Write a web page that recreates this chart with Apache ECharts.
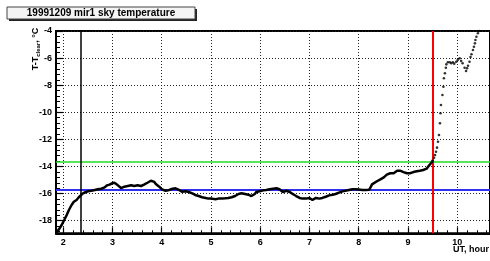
<!DOCTYPE html>
<html>
<head>
<meta charset="utf-8">
<script src="https://cdn.jsdelivr.net/npm/echarts@6.0.0/dist/echarts.min.js"></script>
<style>
html, body { margin: 0; padding: 0; background: #fff; }
#chart { width: 490px; height: 261px; }
</style>
</head>
<body>
<div id="chart"></div>
<script>
// axis ticks
var xTicks = [2, 3, 4, 5, 6, 7, 8, 9, 10];
var yTicks = [-18, -16, -14, -12, -10, -8, -6, -4];

// sky temperature, dense part (UT hours / T - Tclear)
var denseUT = [1.853, 1.913, 1.968, 2.02, 2.07, 2.115, 2.17, 2.215, 2.27, 2.316, 2.356, 2.40, 2.45, 2.50, 2.57,
  2.64, 2.70, 2.77, 2.84, 2.89, 2.94, 2.99, 3.04, 3.07, 3.11, 3.14, 3.175, 3.24, 3.31, 3.38, 3.44, 3.51, 3.58,
  3.64, 3.71, 3.78, 3.81, 3.85, 3.88, 3.95, 4.01, 4.08, 4.15, 4.22, 4.28, 4.35, 4.41, 4.48, 4.55, 4.62, 4.68,
  4.75, 4.82, 4.89, 4.95, 5.02, 5.09, 5.15, 5.22, 5.29, 5.35, 5.42, 5.49, 5.56, 5.62, 5.69, 5.76, 5.82, 5.86,
  5.89, 5.92, 5.99, 6.06, 6.12, 6.19, 6.26, 6.33, 6.39, 6.46, 6.53, 6.60, 6.66, 6.73, 6.80, 6.86, 6.93, 7.00,
  7.06, 7.13, 7.20, 7.26, 7.33, 7.40, 7.47, 7.53, 7.60, 7.67, 7.73, 7.80, 7.87, 7.94, 8.00, 8.07, 8.14, 8.21,
  8.24, 8.27, 8.31, 8.37, 8.44, 8.51, 8.57, 8.64, 8.71, 8.74, 8.78, 8.81, 8.84, 8.88, 8.91, 8.94, 8.98, 9.04,
  9.08, 9.11, 9.18, 9.24, 9.31, 9.38, 9.41, 9.44, 9.48, 9.51];
var denseT = [-18.89, -18.64, -18.32, -17.95, -17.58, -17.21, -16.84, -16.6, -16.47, -16.27, -16.15, -15.98, -15.9, -15.83, -15.79,
  -15.73, -15.68, -15.64, -15.54, -15.39, -15.34, -15.24, -15.2, -15.29, -15.39, -15.49, -15.59, -15.49, -15.44, -15.39, -15.44, -15.39, -15.44,
  -15.34, -15.2, -15.05, -15.0, -15.14, -15.29, -15.49, -15.7, -15.79, -15.73, -15.64, -15.61, -15.73, -15.86, -15.83, -15.88, -15.98, -16.1,
  -16.18, -16.27, -16.32, -16.37, -16.37, -16.42, -16.37, -16.37, -16.35, -16.32, -16.27, -16.18, -16.03, -15.98, -16.03, -16.08, -16.18, -16.23,
  -16.03, -15.88, -15.83, -15.76, -15.73, -15.68, -15.64, -15.61, -15.68, -15.88, -15.79, -15.88, -16.03, -16.18, -16.32, -16.37, -16.37, -16.32,
  -16.47, -16.32, -16.37, -16.32, -16.23, -16.13, -16.08, -16.03, -15.93, -15.83, -15.79, -15.73, -15.68, -15.68, -15.7, -15.74, -15.74, -15.72,
  -15.54, -15.32, -15.24, -15.09, -14.95, -14.80, -14.60, -14.50, -14.50, -14.41, -14.31, -14.35, -14.31, -14.35, -14.41, -14.50, -14.50, -14.50,
  -14.46, -14.41, -14.35, -14.31, -14.26, -14.16, -14.01, -13.91, -13.7, -13.5];

// sparse part after the jump
var riseUT = [9.53, 9.55, 9.57, 9.59, 9.61, 9.63, 9.65, 9.66, 9.67, 9.70, 9.72, 9.73, 9.75, 9.77, 9.78, 9.81,
  9.85, 9.88, 9.91, 9.94, 9.98, 10.01, 10.05, 10.08, 10.11, 10.15, 10.18, 10.20, 10.22, 10.25, 10.27, 10.29,
  10.32, 10.34, 10.36, 10.37, 10.39, 10.42, 10.45];
var riseT = [-13.35, -13.15, -12.91, -12.61, -12.17, -11.68, -10.81, -10.07, -9.46, -8.72, -8.11, -7.49, -7.12, -6.71, -6.46, -6.31,
  -6.31, -6.38, -6.31, -6.41, -6.27, -6.14, -6.02, -6.21, -6.38, -6.71, -6.95, -6.75, -6.56, -6.27, -5.92, -5.72,
  -5.40, -5.16, -4.91, -4.66, -4.42, -4.17, -4.0];

// reference lines
var clearLevel = -15.68;
var upperLevel = -13.68;
var startUT = 2.35;
var stopUT = 9.51;

var xMin = 1.853, xMax = 10.666;
var yMin = -18.93, yMax = -4;
var FONT = 'Liberation Sans, Arial, sans-serif';

var chart = echarts.init(document.getElementById('chart'));

var dotted = { color: '#222', width: 1, type: [1, 2] };

chart.setOption({
  animation: false,
  grid: { left: 56, top: 31, right: -4, bottom: 27.7, show: true, borderColor: '#000', borderWidth: 2, backgroundColor: 'transparent' },
  xAxis: {
    type: 'value', min: xMin, max: xMax, splitNumber: 9,
    axisLine: { show: true, onZero: false, lineStyle: { color: '#000', width: 2 } },
    axisTick: { show: true, inside: true, length: 6, lineStyle: { color: '#000', width: 1.2 } },
    minorTick: { show: true, splitNumber: 5, length: 3, lineStyle: { color: '#000', width: 1 } },
    axisLabel: { color: '#000', fontFamily: FONT, fontWeight: 'bold', fontSize: 9, margin: 5, showMinLabel: false, showMaxLabel: false,
      formatter: function (v) { return xTicks.indexOf(v) >= 0 ? String(v) : ''; } },
    splitLine: { show: true, lineStyle: dotted }
  },
  yAxis: {
    type: 'value', min: yMin, max: yMax, splitNumber: 7,
    axisLine: { show: true, onZero: false, lineStyle: { color: '#000', width: 2 } },
    axisTick: { show: true, inside: true, length: 7, lineStyle: { color: '#000', width: 1.2 } },
    minorTick: { show: true, splitNumber: 5, length: 4, lineStyle: { color: '#000', width: 1 } },
    axisLabel: { color: '#000', fontFamily: FONT, fontWeight: 'bold', fontSize: 9, margin: 4, showMinLabel: false,
      formatter: function (v) { return yTicks.indexOf(v) >= 0 ? String(v) : ''; } },
    splitLine: { show: true, lineStyle: dotted }
  },
  graphic: [
    { type: 'rect', shape: { x: 9, y: 9, width: 188, height: 12 }, style: { fill: '#222' } },
    { type: 'rect', shape: { x: 7, y: 7, width: 188, height: 12 }, style: { fill: '#f4f4f4', stroke: '#444', lineWidth: 1 } },
    { type: 'text', x: 101, y: 13.5, style: { text: '19991209 mir1 sky temperature', font: 'bold 10px ' + FONT, fill: '#000', align: 'center', verticalAlign: 'middle' } },
    { type: 'text', x: 36, y: 49, rotation: Math.PI / 2, style: {
        text: '{m|T-T}{s|clear}{m|, °C}', align: 'center', verticalAlign: 'middle',
        rich: { m: { font: 'bold 9px ' + FONT, fill: '#000' }, s: { font: 'bold 6px ' + FONT, fill: '#000', padding: [4, 0, 0, 0] } }
      } },
    { type: 'text', x: 453, y: 250, style: { text: 'UT, hour', font: 'bold 9px ' + FONT, fill: '#000', align: 'left', verticalAlign: 'middle' } }
  ],
  series: [{
    type: 'line',
    data: denseUT.map(function (u, k) { return [u, denseT[k]]; }),
    showSymbol: false,
    lineStyle: { color: '#000', width: 2.5 },
    z: 5,
    markLine: {
      symbol: 'none', silent: true, label: { show: false },
      data: [
        { yAxis: upperLevel, lineStyle: { color: '#22dd22', width: 1.5, type: 'solid' } },
        { yAxis: clearLevel, lineStyle: { color: '#3030f0', width: 2, type: 'solid' } },
        { xAxis: startUT, lineStyle: { color: '#000', width: 1.5, type: 'solid' } },
        { xAxis: stopUT, lineStyle: { color: '#ff0000', width: 2, type: 'solid' } }
      ]
    }
  }, {
    type: 'scatter',
    data: riseUT.map(function (u, k) { return [u, riseT[k]]; }),
    symbol: 'circle', symbolSize: 2.6,
    itemStyle: { color: '#000' },
    z: 5
  }]
});
</script>
</body>
</html>
